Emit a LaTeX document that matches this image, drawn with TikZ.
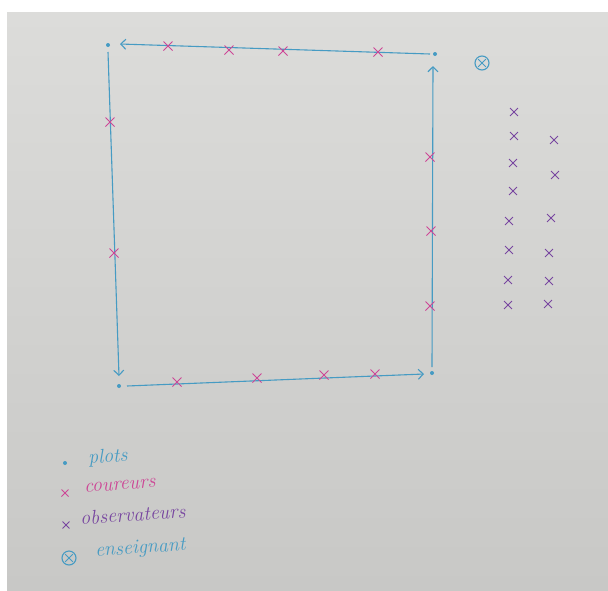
\documentclass[tikz,border=0pt]{standalone}
\usetikzlibrary{arrows.meta,shapes.misc}
\definecolor{pen}{RGB}{70,155,195}
\definecolor{rose}{RGB}{205,70,150}
\definecolor{violet}{RGB}{120,70,160}
\definecolor{paper}{RGB}{220,220,218}
\definecolor{paperdark}{RGB}{200,200,198}
\begin{document}
\begin{tikzpicture}[x=1pt,y=-1pt,
  plot/.style={circle,fill=pen,inner sep=0pt,minimum size=4pt},
  runner/.style={cross out,draw=rose,line width=1pt,inner sep=0pt,minimum size=8pt},
  observer/.style={cross out,draw=violet,line width=0.9pt,inner sep=0pt,minimum size=7pt},
  teacher/.style={circle,draw=pen,line width=1.1pt,inner sep=0pt,minimum size=14pt,
    path picture={\draw[pen,line width=1pt] ([shift={(-3.8pt,-3.8pt)}]path picture bounding box.center) -- ([shift={(3.8pt,3.8pt)}]path picture bounding box.center) ([shift={(-3.8pt,3.8pt)}]path picture bounding box.center) -- ([shift={(3.8pt,-3.8pt)}]path picture bounding box.center);}},
  side/.style={draw=pen,line width=1.1pt,-{Straight Barb[length=5pt,width=10pt,line width=1.1pt]}},
  hand/.style={font=\fontsize{20}{22}\selectfont\itshape,anchor=west,rotate=4,inner sep=0pt}]
\useasboundingbox (0,0) rectangle (608,590);
\fill[white] (0,0) rectangle (608,590);
\shade[top color=paper,bottom color=paperdark] (7,12) rectangle (608,590);
% plots
\node[plot] (tl) at (108,45) {};
\node[plot] (tr) at (435,54) {};
\node[plot] (br) at (432,373) {};
\node[plot] (bl) at (119,386) {};
% sides
\draw[side] ([shift={(-5,0)}]tr.center) -- ([shift={(12,-1)}]tl.center);
\draw[side] ([shift={(0,7)}]tl.center) -- ([shift={(0,-10)}]bl.center);
\draw[side] ([shift={(8,0)}]bl.center) -- ([shift={(-8,1)}]br.center);
\draw[side] ([shift={(0,-6)}]br.center) -- ([shift={(-2,12)}]tr.center);
% runners
\node[runner] (r1) at (168,46) {};
\node[runner] (r2) at (229,50) {};
\node[runner] (r3) at (283,51) {};
\node[runner] (r4) at (378,52) {};
\node[runner] (r5) at (110,122) {};
\node[runner] (r6) at (114,253) {};
\node[runner] (r7) at (177,382) {};
\node[runner] (r8) at (257,378) {};
\node[runner] (r9) at (324,375) {};
\node[runner] (r10) at (375,374) {};
\node[runner] (r11) at (430,157) {};
\node[runner] (r12) at (431,231) {};
\node[runner] (r13) at (430,306) {};
% teacher
\node[teacher] (t) at (482,63) {};
% observers
\node[observer] (o1) at (514,112) {};
\node[observer] (o2) at (514,136) {};
\node[observer] (o3) at (513,163) {};
\node[observer] (o4) at (513,191) {};
\node[observer] (o5) at (509,221) {};
\node[observer] (o6) at (509,250) {};
\node[observer] (o7) at (508,280) {};
\node[observer] (o8) at (508,305) {};
\node[observer] (o9) at (554,140) {};
\node[observer] (o10) at (555,175) {};
\node[observer] (o11) at (551,218) {};
\node[observer] (o12) at (549,253) {};
\node[observer] (o13) at (549,281) {};
\node[observer] (o14) at (548,304) {};
% legend
\node[plot] (lp) at (65,463) {};
\node[hand,text=pen] (lpt) at (88,459) {plots};
\node[runner,minimum size=6pt] (lr) at (65,493) {};
\node[hand,text=rose] (lrt) at (84,488) {coureurs};
\node[observer,minimum size=6pt] (lo) at (66,525) {};
\node[hand,text=violet] (lot) at (80,518) {observateurs};
\node[teacher] (lt) at (69,558) {};
\node[hand,text=pen] (ltt) at (95,552) {enseignant};
\end{tikzpicture}
\end{document}
